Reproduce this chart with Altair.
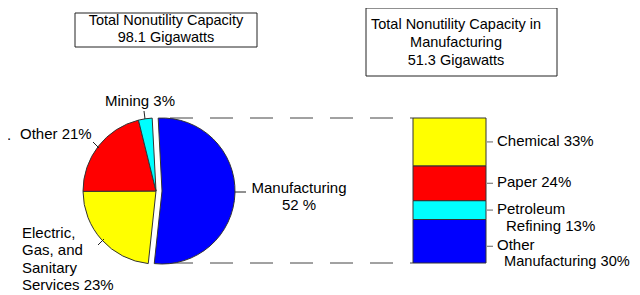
import altair as alt
import pandas as pd
import numpy as np

# ---------------- data ----------------
pie_categories = ["Manufacturing", "Electric, Gas, and Sanitary Services", "Other", "Mining"]
pie_values = [52, 23, 21, 3]
pie_colors = ["#0000FF", "#FFFF00", "#FF0000", "#00FFFF"]

bar_categories = ["Other Manufacturing", "Petroleum Refining", "Paper", "Chemical"]
bar_values = [30, 13, 24, 33]
bar_colors = ["#0000FF", "#00FFFF", "#FF0000", "#FFFF00"]
bar_label_line1 = ["Other", "Petroleum", "Paper 24%", "Chemical 33%"]
bar_label_line2 = ["Manufacturing 30%", "Refining 13%", "", ""]

pie_label_manu = "Manufacturing\n52 %"
pie_label_elec = "Electric,\nGas, and\nSanitary\nServices 23%"
pie_label_other = "Other 21%"
pie_label_mining = "Mining 3%"

title_left = "Total Nonutility Capacity\n98.1 Gigawatts"
title_right = "Total Nonutility Capacity in\nManufacturing\n51.3 Gigawatts"

# ---------------- helpers ----------------
OX, OY = 8, 8
def px(x):
    return x - OX
def py(y):
    return y - OY

FONT = "Liberation Sans"
FS = 15
LH = 17.3
TOPDY = -7  # shift so that the first line's centre sits on the given y

pie_df = pd.DataFrame({"category": pie_categories, "value": pie_values, "color": pie_colors})
pie_df["end"] = pie_df["value"].cumsum()
pie_df["start"] = pie_df["end"] - pie_df["value"]
total = float(pie_df["value"].sum())

start_angle = np.deg2rad(357)
theta_scale = alt.Scale(domain=[0, total], range=[start_angle, start_angle + 2 * np.pi])

bar_df = pd.DataFrame({"category": bar_categories, "value": bar_values,
                       "color": bar_colors, "line1": bar_label_line1, "line2": bar_label_line2})
bar_df["y1"] = bar_df["value"].cumsum()
bar_df["y0"] = bar_df["y1"] - bar_df["value"]
bar_df["mid"] = (bar_df["y0"] + bar_df["y1"]) / 2

y_scale = alt.Scale(domain=[0, 100], range=[py(263), py(118)])

CX, CY, R = 156, 191, 73
BLUE_SHIFT = 6

base_pie = alt.Chart(pie_df)

def arc(filter_expr, cx):
    return base_pie.transform_filter(filter_expr).mark_arc(
        radius=R, stroke="#333333", strokeWidth=1
    ).encode(
        theta=alt.Theta("start:Q", scale=theta_scale, stack=None),
        theta2="end:Q",
        color=alt.Color("color:N", scale=None),
        x=alt.value(px(cx)), y=alt.value(py(CY)),
    )

pie_rest = arc(alt.datum.category != "Manufacturing", CX)
pie_manu = arc(alt.datum.category == "Manufacturing", CX + BLUE_SHIFT)

# connector dashed lines
edge_df = pd.DataFrame({"edge": [0, 100]})
dashes = alt.Chart(edge_df).mark_rule(strokeDash=[23, 17], strokeDashOffset=-8,
                                      color="#444444", strokeWidth=1).encode(
    y=alt.Y("edge:Q", scale=y_scale, axis=None),
    x=alt.value(px(162)), x2=alt.value(px(413)),
)

bars = alt.Chart(bar_df).mark_rect(stroke="#333333", strokeWidth=1).encode(
    y=alt.Y("y0:Q", scale=y_scale, axis=None), y2="y1:Q",
    x=alt.value(px(413)), x2=alt.value(px(486)),
    color=alt.Color("color:N", scale=None),
)

is_bottom = alt.datum.category == bar_categories[0]
is_other = alt.datum.category != bar_categories[0]
BOTTOM_NUDGE = 5

def bar_tick(filt, dy):
    return alt.Chart(bar_df).transform_filter(filt).mark_tick(
        color="#222222", thickness=1, size=6, orient="horizontal", yOffset=dy
    ).encode(
        y=alt.Y("mid:Q", scale=y_scale, axis=None),
        x=alt.value(px(490)),
    )

def bar_text(field, x, dy, filt, fs=FS):
    return alt.Chart(bar_df).transform_filter(filt).mark_text(
        align="left", baseline="middle", dy=dy, font=FONT, fontSize=fs, color="black"
    ).encode(
        y=alt.Y("mid:Q", scale=y_scale, axis=None),
        x=alt.value(px(x)),
        text=f"{field}:N",
    )

anno = alt.Chart(pd.DataFrame({"a": [0]}))

def label(txt, x, y, align="left", baseline="top", dy=TOPDY, fs=FS, lh=LH):
    return anno.mark_text(
        text=txt, align=align, baseline=baseline, dy=dy, font=FONT, fontSize=fs,
        lineHeight=lh, lineBreak="\n", color="black"
    ).encode(x=alt.value(px(x)), y=alt.value(py(y)))

def leader(x1, y1, x2, y2):
    return anno.mark_rule(color="#222222", strokeWidth=1).encode(
        x=alt.value(px(x1)), y=alt.value(py(y1)),
        x2=alt.value(px(x2)), y2=alt.value(py(y2)),
    )

def box(x1, y1, x2, y2):
    return anno.mark_rect(fill="white", stroke="#222222", strokeWidth=1).encode(
        x=alt.value(px(x1)), y=alt.value(py(y1)),
        x2=alt.value(px(x2)), y2=alt.value(py(y2)),
    )

layers = [
    dashes,
    pie_rest, pie_manu,
    bars,
    bar_tick(is_other, 0),
    bar_tick(is_bottom, BOTTOM_NUDGE),
    bar_text("line1", 497, -1, is_other),
    bar_text("line2", 506, 16, is_other),
    bar_text("line1", 497, -1 + BOTTOM_NUDGE, is_bottom),
    bar_text("line2", 504, 16 + BOTTOM_NUDGE, is_bottom, fs=14.6),
    leader(144, 111, 145, 119),
    leader(93, 142, 99, 148),
    leader(98, 245, 104, 239),
    leader(235, 192, 246, 192),
    label(pie_label_mining, 105, 101),
    label(pie_label_other, 20, 134),
    label(".", 7, 140, baseline="alphabetic", dy=0),
    label(pie_label_elec, 22, 233),
    label(pie_label_manu, 299, 188, align="center"),
    box(75, 13, 257, 47),
    label(title_left, 166, 21, align="center", fs=14.5, lh=16.5),
    box(366, 8, 557, 76),
    label(title_right, 456, 25, align="center", fs=14.5, lh=18),
]

chart = alt.layer(*layers).properties(
    width=624, height=284, padding=0, autosize="none"
).configure_view(stroke=None)

chart.save("out.html", embed_options={"renderer": "svg", "actions": False})
